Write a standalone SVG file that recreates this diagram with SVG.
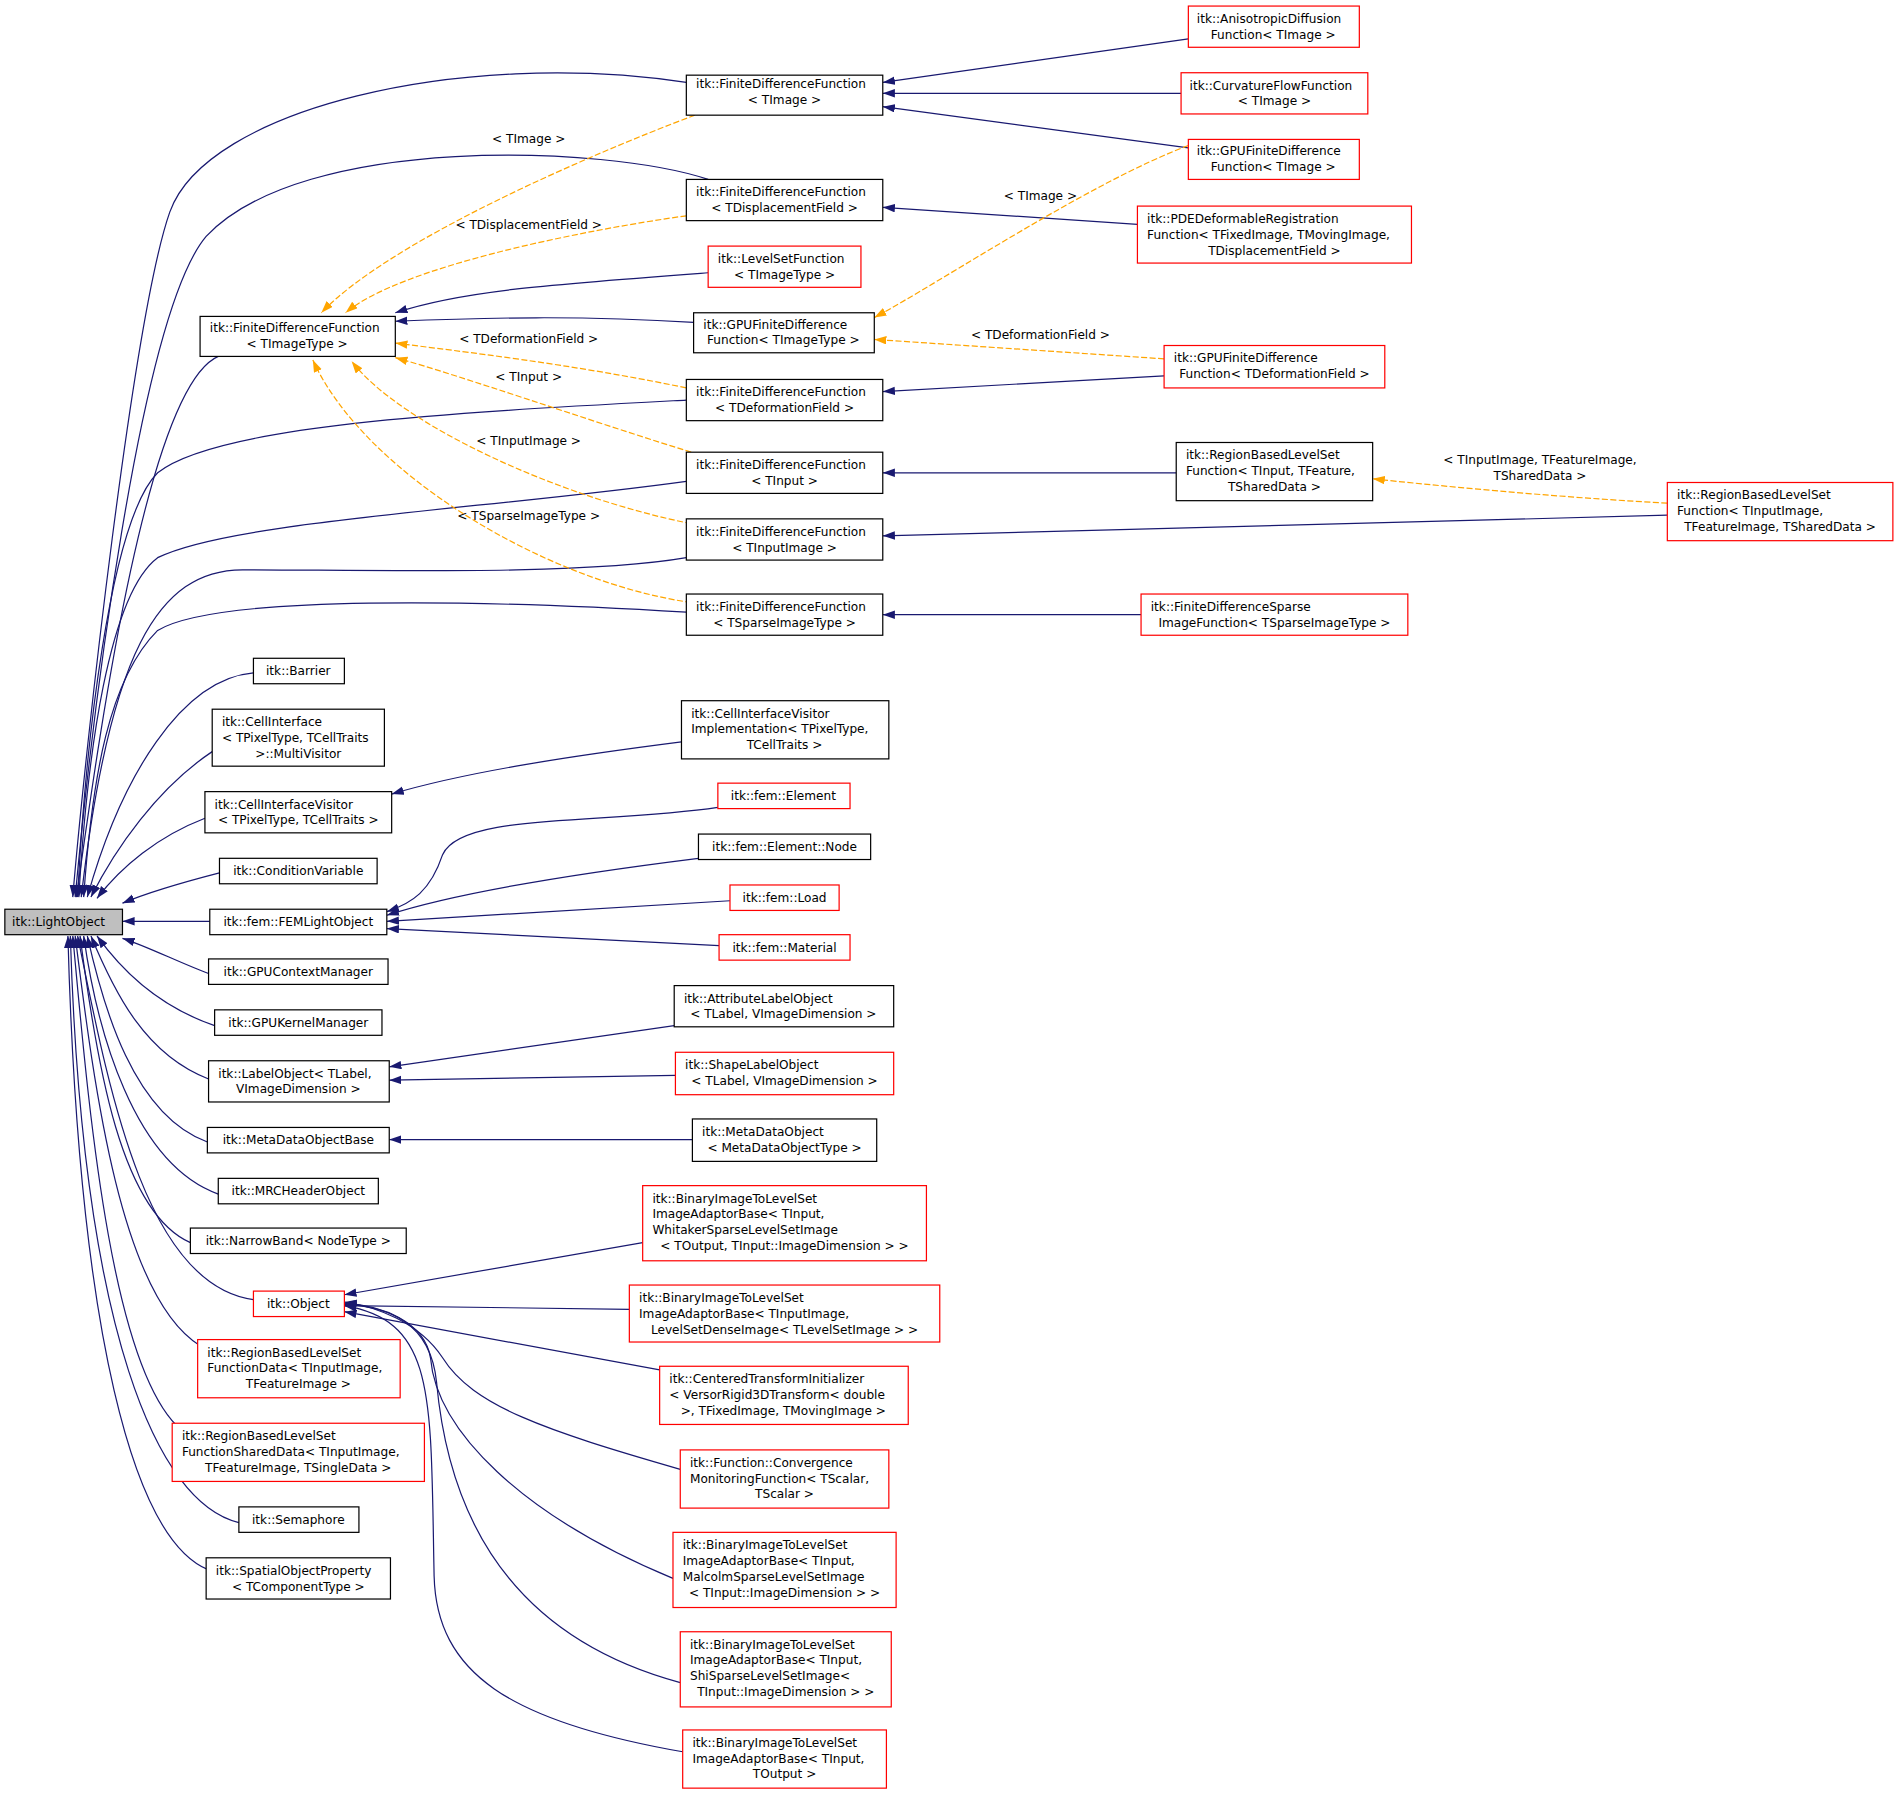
<svg xmlns="http://www.w3.org/2000/svg" width="1899" height="1793" viewBox="0 0 1899 1793">
<style>
text{font-family:"DejaVu Sans","Liberation Sans",sans-serif;font-size:10px;fill:#000}
.n rect{fill:#fff;stroke:#000;stroke-width:1}
.r rect{fill:#fff;stroke:#f00;stroke-width:1}
.e path{fill:none;stroke:#191970;stroke-width:1;marker-end:url(#a)}
.o path{fill:none;stroke:#ffa500;stroke-width:1;stroke-dasharray:5,2;marker-end:url(#b)}
.c{text-anchor:middle}
</style>
<defs>
<marker id="a" markerUnits="userSpaceOnUse" markerWidth="11" markerHeight="8" refX="10" refY="3.5" orient="auto"><path d="M0,0L10,3.5L0,7z" fill="#191970"/></marker>
<marker id="b" markerUnits="userSpaceOnUse" markerWidth="11" markerHeight="8" refX="10" refY="3.5" orient="auto"><path d="M0,0L10,3.5L0,7z" fill="#ffa500"/></marker>
</defs>
<rect width="1899" height="1793" fill="#fff"/>
<g transform="scale(1.2126,1.2123)">
<g id="edges">
<g class="e">
<path d="M566,68 C380,40 170,90 140,175 C110,260 70,620 60,740"/>
<path d="M584,148 C500,120 250,110 170,195 C115,260 75,600 62,740"/>
<path d="M180,294 C120,320 80,620 63,740"/>
<path d="M566,330 C380,340 180,350 130,390 C90,430 70,620 64,740"/>
<path d="M566,397 C400,420 190,430 130,460 C90,490 72,620 65,740"/>
<path d="M566,460 C480,475 300,470 200,470 C130,470 90,540 67,740"/>
<path d="M566,505 C400,495 180,490 130,520 C90,560 76,640 69,740"/>
<path d="M209,555 C150,560 100,640 72,740"/>
<path d="M175,620 C130,650 95,700 75,740"/>
<path d="M169,675 C130,690 100,715 80,741"/>
<path d="M181,720 C150,728 120,737 101,745"/>
<path d="M173,760 L101,760"/>
<path d="M172,803 C150,795 120,780 101,774"/>
<path d="M177,846 C130,830 100,800 80,772"/>
<path d="M172,890 C120,870 95,820 75,772"/>
<path d="M171,942 C110,920 85,830 72,772"/>
<path d="M180,985 C110,960 80,850 69,772"/>
<path d="M157,1025 C100,1000 80,880 66,772"/>
<path d="M209,1072 C120,1060 90,900 64,772"/>
<path d="M165,1110 C100,1070 78,900 62,772"/>
<path d="M150,1180 C90,1130 72,900 60,772"/>
<path d="M197,1256 C130,1240 68,1100 58,772"/>
<path d="M172,1295 C110,1270 65,1100 56,772"/>
<path d="M980,32 L728,68"/>
<path d="M974,77 L728,77"/>
<path d="M980,122 L728,88"/>
<path d="M938,185 L728,171"/>
<path d="M584,225 C450,235 380,240 326,258"/>
<path d="M572,266 C480,260 400,262 326,265"/>
<path d="M960,310 L728,323"/>
<path d="M970,390 L728,390"/>
<path d="M1375,425 L728,442"/>
<path d="M941,507 L728,507"/>
<path d="M562,612 C460,625 380,638 323,655"/>
<path d="M592,666 C500,680 380,670 365,705 C355,735 340,745 319,752"/>
<path d="M576,708 C480,720 380,735 319,755"/>
<path d="M602,743 L319,760"/>
<path d="M593,780 L319,766"/>
<path d="M556,846 L321,880"/>
<path d="M557,887 L321,891"/>
<path d="M571,940 L321,940"/>
<path d="M530,1025 L284,1068"/>
<path d="M519,1080 L284,1077"/>
<path d="M544,1130 L284,1082"/>
<path d="M561,1212 C450,1180 390,1160 365,1120 C345,1090 310,1078 284,1074"/>
<path d="M555,1302 C430,1250 360,1180 355,1120 C350,1090 315,1077 284,1075"/>
<path d="M561,1388 C420,1350 370,1250 360,1140 C355,1090 320,1078 284,1076"/>
<path d="M563,1445 C420,1420 360,1380 358,1300 C355,1150 360,1090 284,1077"/>
</g>
<g class="o">
<path d="M573,95 C480,130 320,200 265,258"/>
<path d="M566,178 C480,190 330,220 285,258"/>
<path d="M980,120 C900,150 780,230 721,262"/>
<path d="M960,296 L721,280"/>
<path d="M566,320 C470,300 380,290 326,283"/>
<path d="M570,373 C480,345 380,310 326,295"/>
<path d="M570,432 C460,410 330,350 290,298"/>
<path d="M570,497 C450,480 300,390 258,297"/>
<path d="M1375,415 C1280,410 1180,400 1132,395"/>
</g>
<g class="c">
<text x="436" y="118">&lt; TImage &gt;</text>
<text x="436" y="189">&lt; TDisplacementField &gt;</text>
<text x="858" y="165">&lt; TImage &gt;</text>
<text x="858" y="280">&lt; TDeformationField &gt;</text>
<text x="436" y="283">&lt; TDeformationField &gt;</text>
<text x="436" y="314">&lt; TInput &gt;</text>
<text x="436" y="367">&lt; TInputImage &gt;</text>
<text x="436" y="429">&lt; TSparseImageType &gt;</text>
<text x="1270" y="383">&lt; TInputImage, TFeatureImage,</text>
<text x="1270" y="396">TSharedData &gt;</text>
</g>
</g>
<g id="LightObject" class="n"><rect x="4" y="750" width="97" height="21" fill="#bfbfbf" style="fill:#bfbfbf"/><text x="10" y="764">itk::LightObject</text></g>
<g id="fdfTImage" class="n"><rect x="566" y="62" width="162" height="33"/><text x="574" y="73">itk::FiniteDifferenceFunction</text><text class="c" x="647" y="86">&lt; TImage &gt;</text></g>
<g id="aniso" class="r"><rect x="980" y="5" width="141" height="34"/><text x="987" y="19">itk::AnisotropicDiffusion</text><text class="c" x="1050" y="32">Function&lt; TImage &gt;</text></g>
<g id="curv" class="r"><rect x="974" y="60" width="154" height="34"/><text x="981" y="74">itk::CurvatureFlowFunction</text><text class="c" x="1051" y="87">&lt; TImage &gt;</text></g>
<g id="gpuTImage" class="r"><rect x="980" y="115" width="141" height="33"/><text x="987" y="128">itk::GPUFiniteDifference</text><text class="c" x="1050" y="141">Function&lt; TImage &gt;</text></g>
<g id="fdfTDisp" class="n"><rect x="566" y="148" width="162" height="34"/><text x="574" y="162">itk::FiniteDifferenceFunction</text><text class="c" x="647" y="175">&lt; TDisplacementField &gt;</text></g>
<g id="pde" class="r"><rect x="938" y="170" width="226" height="47"/><text x="946" y="184">itk::PDEDeformableRegistration</text><text x="946" y="197">Function&lt; TFixedImage, TMovingImage,</text><text class="c" x="1051" y="210">TDisplacementField &gt;</text></g>
<g id="lsf" class="r"><rect x="584" y="203" width="126" height="34"/><text x="592" y="217">itk::LevelSetFunction</text><text class="c" x="647" y="230">&lt; TImageType &gt;</text></g>
<g id="fdfTImageType" class="n"><rect x="165" y="261" width="161" height="33"/><text x="173" y="274">itk::FiniteDifferenceFunction</text><text class="c" x="245" y="287">&lt; TImageType &gt;</text></g>
<g id="gpuTImageType" class="n"><rect x="572" y="258" width="149" height="33"/><text x="580" y="271">itk::GPUFiniteDifference</text><text class="c" x="646" y="284">Function&lt; TImageType &gt;</text></g>
<g id="gpuTDef" class="r"><rect x="960" y="285" width="182" height="35"/><text x="968" y="299">itk::GPUFiniteDifference</text><text class="c" x="1051" y="312">Function&lt; TDeformationField &gt;</text></g>
<g id="fdfTDef" class="n"><rect x="566" y="313" width="162" height="34"/><text x="574" y="327">itk::FiniteDifferenceFunction</text><text class="c" x="647" y="340">&lt; TDeformationField &gt;</text></g>
<g id="fdfTInput" class="n"><rect x="566" y="373" width="162" height="34"/><text x="574" y="387">itk::FiniteDifferenceFunction</text><text class="c" x="647" y="400">&lt; TInput &gt;</text></g>
<g id="rbTInput" class="n"><rect x="970" y="365" width="162" height="48"/><text x="978" y="379">itk::RegionBasedLevelSet</text><text x="978" y="392">Function&lt; TInput, TFeature,</text><text class="c" x="1051" y="405">TSharedData &gt;</text></g>
<g id="fdfTInputImage" class="n"><rect x="566" y="428" width="162" height="34"/><text x="574" y="442">itk::FiniteDifferenceFunction</text><text class="c" x="647" y="455">&lt; TInputImage &gt;</text></g>
<g id="rbTInputImage" class="r"><rect x="1375" y="398" width="186" height="48"/><text x="1383" y="412">itk::RegionBasedLevelSet</text><text x="1383" y="425">Function&lt; TInputImage,</text><text class="c" x="1468" y="438"> TFeatureImage, TSharedData &gt;</text></g>
<g id="fdfSparse" class="n"><rect x="566" y="490" width="162" height="34"/><text x="574" y="504">itk::FiniteDifferenceFunction</text><text class="c" x="647" y="517">&lt; TSparseImageType &gt;</text></g>
<g id="fdSparse" class="r"><rect x="941" y="490" width="220" height="34"/><text x="949" y="504">itk::FiniteDifferenceSparse</text><text class="c" x="1051" y="517">ImageFunction&lt; TSparseImageType &gt;</text></g>
<g id="barrier" class="n"><rect x="209" y="543" width="75" height="21"/><text class="c" x="246" y="557">itk::Barrier</text></g>
<g id="multiVisitor" class="n"><rect x="175" y="585" width="142" height="47"/><text x="183" y="599">itk::CellInterface</text><text x="183" y="612">&lt; TPixelType, TCellTraits</text><text class="c" x="246" y="625"> &gt;::MultiVisitor</text></g>
<g id="civImpl" class="n"><rect x="562" y="578" width="171" height="48"/><text x="570" y="592">itk::CellInterfaceVisitor</text><text x="570" y="605">Implementation&lt; TPixelType,</text><text class="c" x="647" y="618">TCellTraits &gt;</text></g>
<g id="civ" class="n"><rect x="169" y="653" width="154" height="34"/><text x="177" y="667">itk::CellInterfaceVisitor</text><text class="c" x="246" y="680">&lt; TPixelType, TCellTraits &gt;</text></g>
<g id="element" class="r"><rect x="592" y="646" width="109" height="21"/><text class="c" x="646" y="660">itk::fem::Element</text></g>
<g id="elnode" class="n"><rect x="576" y="688" width="142" height="21"/><text class="c" x="647" y="702">itk::fem::Element::Node</text></g>
<g id="condvar" class="n"><rect x="181" y="708" width="130" height="21"/><text class="c" x="246" y="722">itk::ConditionVariable</text></g>
<g id="fem" class="n"><rect x="173" y="750" width="146" height="21"/><text class="c" x="246" y="764">itk::fem::FEMLightObject</text></g>
<g id="load" class="r"><rect x="602" y="730" width="90" height="21"/><text class="c" x="647" y="744">itk::fem::Load</text></g>
<g id="material" class="r"><rect x="593" y="771" width="108" height="21"/><text class="c" x="647" y="785">itk::fem::Material</text></g>
<g id="gpuctx" class="n"><rect x="172" y="791" width="148" height="21"/><text class="c" x="246" y="805">itk::GPUContextManager</text></g>
<g id="gpukern" class="n"><rect x="177" y="833" width="138" height="21"/><text class="c" x="246" y="847">itk::GPUKernelManager</text></g>
<g id="labelobj" class="n"><rect x="172" y="875" width="149" height="34"/><text x="180" y="889">itk::LabelObject&lt; TLabel,</text><text class="c" x="246" y="902">VImageDimension &gt;</text></g>
<g id="attr" class="n"><rect x="556" y="813" width="181" height="34"/><text x="564" y="827">itk::AttributeLabelObject</text><text class="c" x="646" y="840">&lt; TLabel, VImageDimension &gt;</text></g>
<g id="shape" class="r"><rect x="557" y="868" width="180" height="35"/><text x="565" y="882">itk::ShapeLabelObject</text><text class="c" x="647" y="895">&lt; TLabel, VImageDimension &gt;</text></g>
<g id="mdob" class="n"><rect x="171" y="930" width="150" height="21"/><text class="c" x="246" y="944">itk::MetaDataObjectBase</text></g>
<g id="mdo" class="n"><rect x="571" y="923" width="152" height="35"/><text x="579" y="937">itk::MetaDataObject</text><text class="c" x="647" y="950">&lt; MetaDataObjectType &gt;</text></g>
<g id="mrc" class="n"><rect x="180" y="972" width="132" height="21"/><text class="c" x="246" y="986">itk::MRCHeaderObject</text></g>
<g id="narrow" class="n"><rect x="157" y="1013" width="178" height="21"/><text class="c" x="246" y="1027">itk::NarrowBand&lt; NodeType &gt;</text></g>
<g id="object" class="r"><rect x="209" y="1065" width="75" height="21"/><text class="c" x="246" y="1079">itk::Object</text></g>
<g id="bin1" class="r"><rect x="530" y="978" width="234" height="62"/><text x="538" y="992">itk::BinaryImageToLevelSet</text><text x="538" y="1005">ImageAdaptorBase&lt; TInput,</text><text x="538" y="1018"> WhitakerSparseLevelSetImage</text><text class="c" x="647" y="1031">&lt; TOutput, TInput::ImageDimension &gt; &gt;</text></g>
<g id="bin2" class="r"><rect x="519" y="1060" width="256" height="47"/><text x="527" y="1074">itk::BinaryImageToLevelSet</text><text x="527" y="1087">ImageAdaptorBase&lt; TInputImage,</text><text class="c" x="647" y="1100"> LevelSetDenseImage&lt; TLevelSetImage &gt; &gt;</text></g>
<g id="cti" class="r"><rect x="544" y="1127" width="205" height="48"/><text x="552" y="1141">itk::CenteredTransformInitializer</text><text x="552" y="1154">&lt; VersorRigid3DTransform&lt; double</text><text class="c" x="646" y="1167"> &gt;, TFixedImage, TMovingImage &gt;</text></g>
<g id="conv" class="r"><rect x="561" y="1196" width="172" height="48"/><text x="569" y="1210">itk::Function::Convergence</text><text x="569" y="1223">MonitoringFunction&lt; TScalar,</text><text class="c" x="647" y="1236">TScalar &gt;</text></g>
<g id="bin3" class="r"><rect x="555" y="1264" width="184" height="62"/><text x="563" y="1278">itk::BinaryImageToLevelSet</text><text x="563" y="1291">ImageAdaptorBase&lt; TInput,</text><text x="563" y="1304"> MalcolmSparseLevelSetImage</text><text class="c" x="647" y="1317">&lt; TInput::ImageDimension &gt; &gt;</text></g>
<g id="bin4" class="r"><rect x="561" y="1346" width="174" height="62"/><text x="569" y="1360">itk::BinaryImageToLevelSet</text><text x="569" y="1373">ImageAdaptorBase&lt; TInput,</text><text x="569" y="1386"> ShiSparseLevelSetImage&lt;</text><text class="c" x="648" y="1399">TInput::ImageDimension &gt; &gt;</text></g>
<g id="bin5" class="r"><rect x="563" y="1427" width="168" height="48"/><text x="571" y="1441">itk::BinaryImageToLevelSet</text><text x="571" y="1454">ImageAdaptorBase&lt; TInput,</text><text class="c" x="647" y="1467">TOutput &gt;</text></g>
<g id="rbData" class="r"><rect x="163" y="1105" width="167" height="48"/><text x="171" y="1119">itk::RegionBasedLevelSet</text><text x="171" y="1132">FunctionData&lt; TInputImage,</text><text class="c" x="246" y="1145">TFeatureImage &gt;</text></g>
<g id="rbShared" class="r"><rect x="142" y="1174" width="208" height="48"/><text x="150" y="1188">itk::RegionBasedLevelSet</text><text x="150" y="1201">FunctionSharedData&lt; TInputImage,</text><text class="c" x="246" y="1214">TFeatureImage, TSingleData &gt;</text></g>
<g id="semaphore" class="n"><rect x="197" y="1243" width="99" height="21"/><text class="c" x="246" y="1257">itk::Semaphore</text></g>
<g id="spatial" class="n"><rect x="170" y="1285" width="152" height="34"/><text x="178" y="1299">itk::SpatialObjectProperty</text><text class="c" x="246" y="1312">&lt; TComponentType &gt;</text></g>
</g>
</svg>
